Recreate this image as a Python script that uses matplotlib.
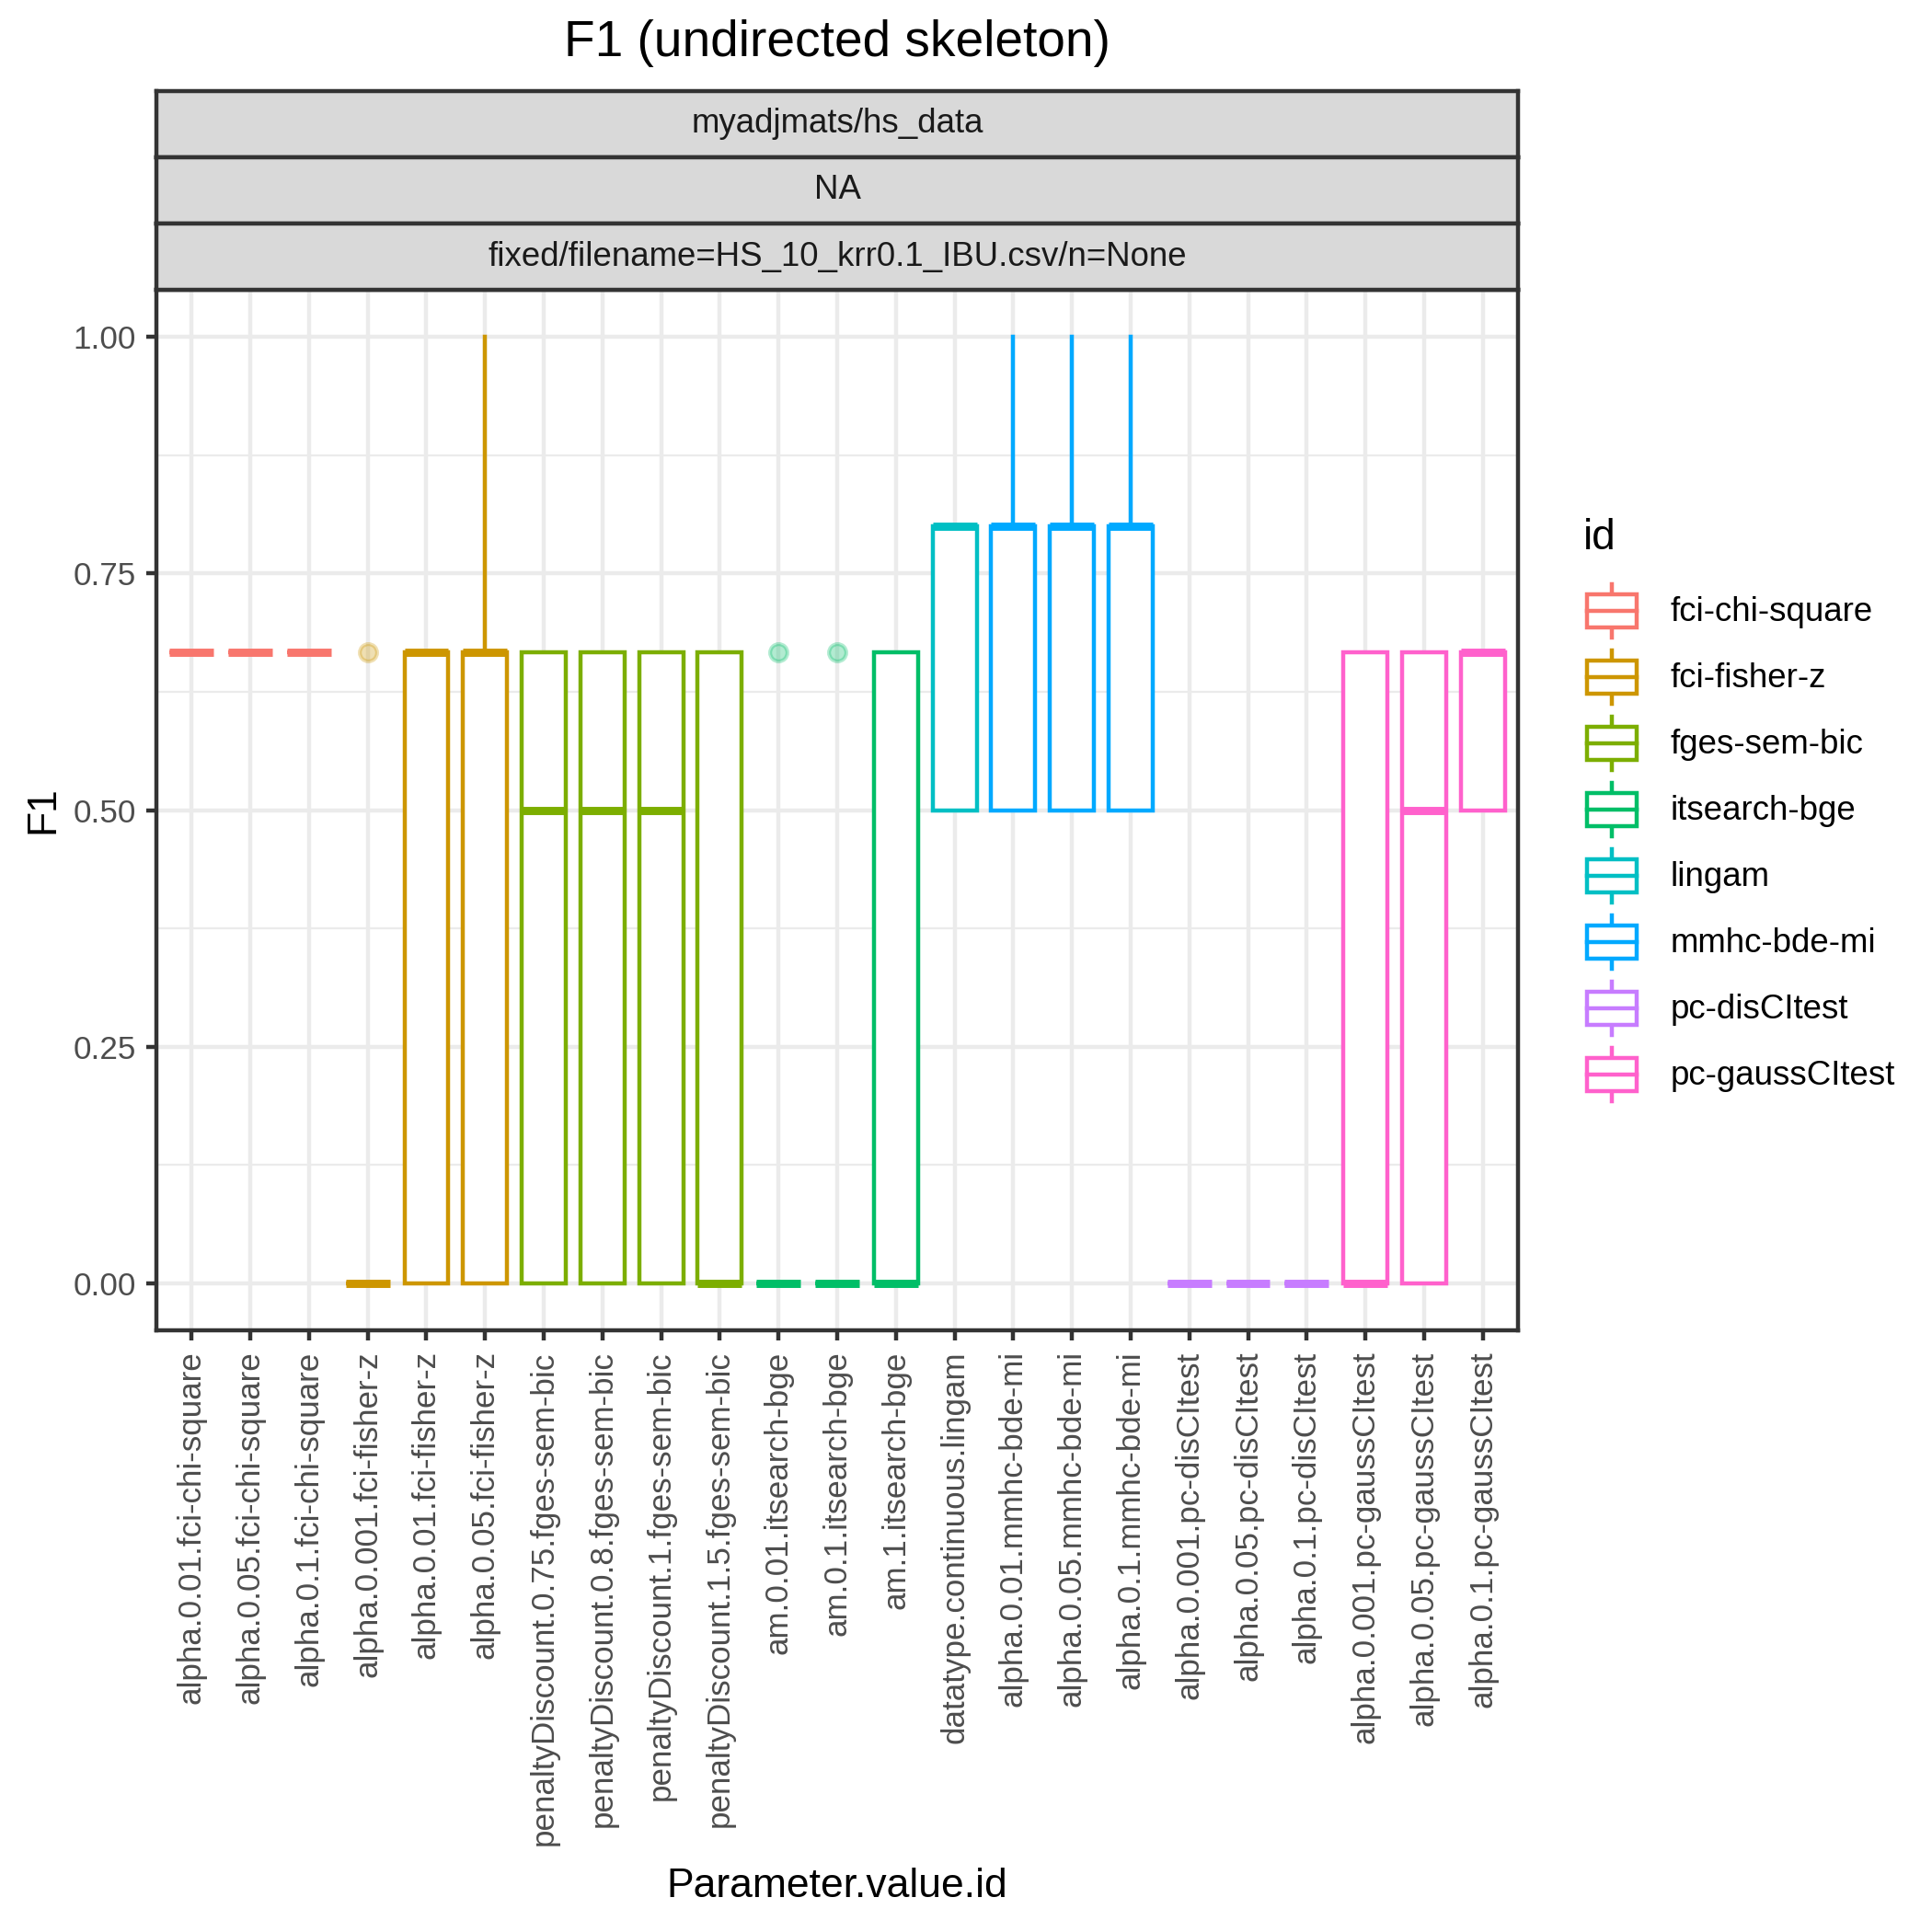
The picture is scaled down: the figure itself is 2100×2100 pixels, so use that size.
import matplotlib
matplotlib.use("Agg")
import matplotlib.pyplot as plt
from matplotlib.patches import Rectangle
from matplotlib.lines import Line2D
from matplotlib.legend_handler import HandlerBase

plt.rcParams["font.family"] = ["Liberation Sans", "DejaVu Sans"]

# ---------- Data ----------
categories = [
    "alpha.0.01.fci-chi-square", "alpha.0.05.fci-chi-square", "alpha.0.1.fci-chi-square",
    "alpha.0.001.fci-fisher-z", "alpha.0.01.fci-fisher-z", "alpha.0.05.fci-fisher-z",
    "penaltyDiscount.0.75.fges-sem-bic", "penaltyDiscount.0.8.fges-sem-bic",
    "penaltyDiscount.1.fges-sem-bic", "penaltyDiscount.1.5.fges-sem-bic",
    "am.0.01.itsearch-bge", "am.0.1.itsearch-bge", "am.1.itsearch-bge",
    "datatype.continuous.lingam",
    "alpha.0.01.mmhc-bde-mi", "alpha.0.05.mmhc-bde-mi", "alpha.0.1.mmhc-bde-mi",
    "alpha.0.001.pc-disCItest", "alpha.0.05.pc-disCItest", "alpha.0.1.pc-disCItest",
    "alpha.0.001.pc-gaussCItest", "alpha.0.05.pc-gaussCItest", "alpha.0.1.pc-gaussCItest",
]
group_ids = [
    "fci-chi-square", "fci-chi-square", "fci-chi-square",
    "fci-fisher-z", "fci-fisher-z", "fci-fisher-z",
    "fges-sem-bic", "fges-sem-bic", "fges-sem-bic", "fges-sem-bic",
    "itsearch-bge", "itsearch-bge", "itsearch-bge",
    "lingam",
    "mmhc-bde-mi", "mmhc-bde-mi", "mmhc-bde-mi",
    "pc-disCItest", "pc-disCItest", "pc-disCItest",
    "pc-gaussCItest", "pc-gaussCItest", "pc-gaussCItest",
]
q1 =     [0.667, 0.667, 0.667, 0.0, 0.0,   0.0,   0.0,   0.0,   0.0,   0.0,   0.0, 0.0, 0.0,   0.5, 0.5, 0.5, 0.5, 0.0, 0.0, 0.0, 0.0,   0.0,   0.5]
med =    [0.667, 0.667, 0.667, 0.0, 0.667, 0.667, 0.5,   0.5,   0.5,   0.0,   0.0, 0.0, 0.0,   0.8, 0.8, 0.8, 0.8, 0.0, 0.0, 0.0, 0.0,   0.5,   0.667]
q3 =     [0.667, 0.667, 0.667, 0.0, 0.667, 0.667, 0.667, 0.667, 0.667, 0.667, 0.0, 0.0, 0.667, 0.8, 0.8, 0.8, 0.8, 0.0, 0.0, 0.0, 0.667, 0.667, 0.667]
whislo = [0.667, 0.667, 0.667, 0.0, 0.0,   0.0,   0.0,   0.0,   0.0,   0.0,   0.0, 0.0, 0.0,   0.5, 0.5, 0.5, 0.5, 0.0, 0.0, 0.0, 0.0,   0.0,   0.5]
whishi = [0.667, 0.667, 0.667, 0.0, 0.667, 1.0,   0.667, 0.667, 0.667, 0.667, 0.0, 0.0, 0.667, 0.8, 1.0, 1.0, 1.0, 0.0, 0.0, 0.0, 0.667, 0.667, 0.667]
outliers = [[], [], [], [0.667], [], [], [], [], [], [], [0.667], [0.667], [],
            [], [], [], [], [], [], [], [], [], []]

id_levels = ["fci-chi-square", "fci-fisher-z", "fges-sem-bic", "itsearch-bge",
             "lingam", "mmhc-bde-mi", "pc-disCItest", "pc-gaussCItest"]
id_colors = ["#F8766D", "#CD9600", "#7CAE00", "#00BE67",
             "#00BFC4", "#00A9FF", "#C77CFF", "#FF61CC"]

y_ticks = [0.0, 0.25, 0.5, 0.75, 1.0]
y_minor = [0.125, 0.375, 0.625, 0.875]
strip_labels = ["myadjmats/hs_data", "NA", "fixed/filename=HS_10_krr0.1_IBU.csv/n=None"]

# ---------- Style ----------
LW = 1.07
GRID = "#EBEBEB"
DARK = "#333333"
W, H = 2100, 2100
LEG_FS = 8.8


class BoxKeyHandler(HandlerBase):
    """ggplot-like boxplot legend key."""
    def create_artists(self, legend, orig_handle, xdescent, ydescent,
                       width, height, fontsize, trans):
        c = orig_handle.get_color()
        x0, y0 = -xdescent, -ydescent
        xm = x0 + 0.5 * width
        box = Rectangle((x0 + 0.125 * width, y0 + 0.25 * height), 0.75 * width, 0.5 * height,
                        facecolor="white", edgecolor=c, lw=LW, transform=trans)
        mid = Line2D([x0 + 0.125 * width, x0 + 0.875 * width], [y0 + 0.5 * height] * 2,
                     color=c, lw=LW, transform=trans)
        wlo = Line2D([xm, xm], [y0 + 0.1 * height, y0 + 0.25 * height], color=c, lw=LW, transform=trans)
        whi = Line2D([xm, xm], [y0 + 0.75 * height, y0 + 0.9 * height], color=c, lw=LW, transform=trans)
        return [wlo, whi, box, mid]


fig = plt.figure(figsize=(7, 7), dpi=300)

# panel placement in pixels
pl, pr, pt, pb = 170, 1650, 315, 1446
strip_top = 99
ax = fig.add_axes([pl / W, 1 - pb / H, (pr - pl) / W, (pb - pt) / H])

color_of = dict(zip(id_levels, id_colors))
positions = list(range(1, len(categories) + 1))

for i, pos in enumerate(positions):
    c = color_of[group_ids[i]]
    stats = [{"med": med[i], "q1": q1[i], "q3": q3[i],
              "whislo": whislo[i], "whishi": whishi[i], "fliers": outliers[i]}]
    ax.bxp(stats, positions=[pos], widths=0.75, showcaps=False, patch_artist=True,
           boxprops=dict(facecolor="white", edgecolor=c, lw=LW),
           medianprops=dict(color=c, lw=2 * LW, solid_capstyle="butt"),
           whiskerprops=dict(color=c, lw=LW),
           flierprops=dict(marker="o", markersize=4.5, markerfacecolor=c,
                           markeredgecolor=c, alpha=0.3, linestyle="none"),
           manage_ticks=False, zorder=3)

ax.set_xlim(0.4, len(categories) + 0.6)
ax.set_ylim(-0.05, 1.05)
ax.set_xticks(positions)
ax.set_xticklabels(categories, rotation=90, ha="center", va="top")
ax.set_yticks(y_ticks)
ax.set_yticklabels([f"{v:.2f}" for v in y_ticks])
ax.set_yticks(y_minor, minor=True)

for v in y_ticks:
    ax.axhline(v, color=GRID, lw=LW, zorder=0)
for v in y_minor:
    ax.axhline(v, color=GRID, lw=LW / 2, zorder=0)
for p in positions:
    ax.axvline(p, color=GRID, lw=LW, zorder=0)

ax.tick_params(axis="both", which="major", length=2.75, width=LW, color=DARK,
               labelsize=8.4, labelcolor="#4D4D4D", pad=2.6)
ax.tick_params(axis="y", which="minor", length=0)
for s in ax.spines.values():
    s.set_color(DARK)
    s.set_linewidth(LW)

ax.set_xlabel("Parameter.value.id", fontsize=10.7, va="center")
ax.xaxis.set_label_coords(0.5, -(2050 - pb) / (pb - pt))
ax.set_ylabel("F1", fontsize=10.7, va="center")
ax.yaxis.set_label_coords(-(pl - 47) / (pr - pl), 0.5)

# facet strips
sh = (pt - strip_top) / 3
for k, lab in enumerate(strip_labels):
    top = strip_top + k * sh
    sax = fig.add_axes([pl / W, 1 - (top + sh) / H, (pr - pl) / W, sh / H])
    sax.set_facecolor("#D9D9D9")
    sax.set_xticks([])
    sax.set_yticks([])
    for s in sax.spines.values():
        s.set_color(DARK)
        s.set_linewidth(LW)
    sax.text(0.5, 0.5, lab, ha="center", va="center", fontsize=8.8, color="#1A1A1A",
             transform=sax.transAxes)

# title
fig.text((pl + pr) / 2 / W, 1 - 47 / H, "F1 (undirected skeleton)", ha="center", va="center",
         fontsize=13.2)

# legend (key size 72 px = 17.28 pt)
key_pt = 17.28
hh = (key_pt / LEG_FS - 0.245) / 0.65
fig.text(1721 / W, 1 - 585 / H, "id", ha="left", va="center", fontsize=11)
handles = [Line2D([], [], color=c) for c in id_colors]
fig.legend(handles, id_levels, handler_map={Line2D: BoxKeyHandler()},
           loc="upper left", bbox_to_anchor=(1716 / W, 1 - 628 / H),
           frameon=False, fontsize=LEG_FS, handlelength=key_pt / LEG_FS, handleheight=hh,
           handletextpad=0.74, labelspacing=0, borderpad=0, borderaxespad=0)

fig.savefig("out.png", dpi=300, facecolor="white")
